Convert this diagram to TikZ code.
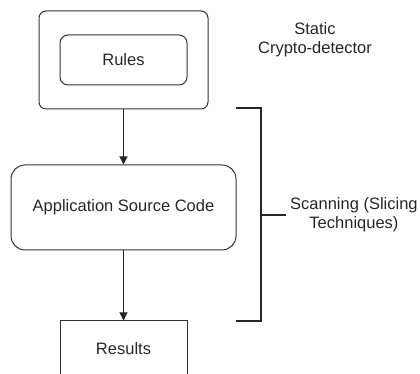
\documentclass[tikz,border=0pt]{standalone}
\usepackage{fontspec}
\setmainfont{Liberation Sans}
\usepackage{tikz}
\usetikzlibrary{arrows.meta}

\begin{document}
\begin{tikzpicture}[x=1pt, y=1pt, >={Triangle[length=8pt,width=8pt]}]
\tikzstyle{every node}=[font=\fontsize{16.5}{19}\selectfont, text=black!85];
\tikzstyle{block}=[draw=black!80, line width=1pt, inner sep=0pt];
\useasboundingbox (0,0) rectangle (420,374);

% detector frame with the rules inside
\node[block, rounded corners=7pt, minimum width=169pt, minimum height=98pt] (frame) at (123.5,314) {};
\node[block, rounded corners=8pt, minimum width=127pt, minimum height=50pt] (rules) at (123.5,314) {Rules};
\node[align=center] (static) at (315,334) {Static\\Crypto-detector};

% source code and results
\node[block, rounded corners=14pt, minimum width=225pt, minimum height=85pt] (app) at (123.5,166.5) {Application Source Code};
\node[block, minimum width=127pt, minimum height=66pt] (results) at (123.5,20) {};
\node (restext) at (123.5,25) {Results};

\draw[->, line width=1pt, black!85] (frame.south) -- (app.north);
\draw[->, line width=1pt, black!85] (app.south) -- (results.north);

% bracket for the scanning stage
\coordinate (btop) at (236,266);
\coordinate (bbot) at (236,53);
\coordinate (tick) at (286,159);
\draw[line width=2pt, black!85] (btop) -| (261,53) -- (bbot);
\draw[line width=2pt, black!85] (261,159) -- (tick);
\node[right, align=center, inner sep=4pt] (scan) at (tick) {Scanning (Slicing\\Techniques)};
\end{tikzpicture}
\end{document}
